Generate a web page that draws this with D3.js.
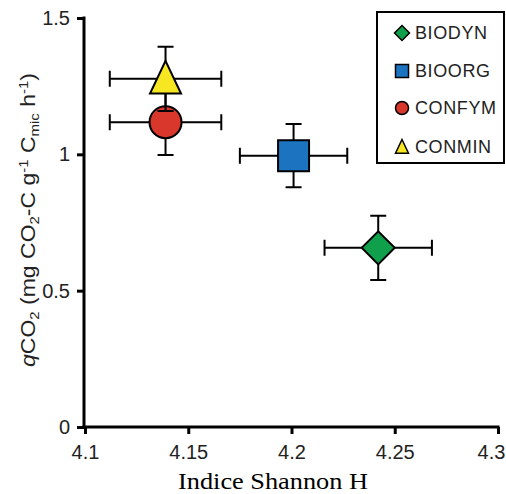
<!DOCTYPE html>
<html>
<head>
<meta charset="utf-8">
<script src="https://cdn.jsdelivr.net/npm/d3@7"></script>
<style>
  body { margin: 0; background: #fff; }
  svg { display: block; }
  .axis text { font-family: "Liberation Sans", Arial, sans-serif; font-size: 20px; fill: #222; }
</style>
</head>
<body>
<div id="chart"></div>
<script>
// data
const treatments = ['BIODYN', 'BIOORG', 'CONFYM', 'CONMIN'];
const shannon    = [4.242, 4.201, 4.139, 4.139];
const shannonErr = [0.026, 0.026, 0.027, 0.027];
const qco2       = [0.657, 0.995, 1.118, 1.277];
const qco2Err    = [0.118, 0.116, 0.120, 0.118];
const xTicks = [4.1, 4.15, 4.2, 4.25, 4.3];
const yTicks = [0, 0.5, 1, 1.5];

const colors = {BIODYN: '#10a04c', BIOORG: '#1c74c0', CONFYM: '#d9372c', CONMIN: '#f6e722'};
const width = 506, height = 494;

const svg = d3.select('#chart').append('svg')
  .attr('width', width)
  .attr('height', height);

const x = d3.scaleLinear().domain([4.1, 4.3]).range([85, 498]);
const y = d3.scaleLinear().domain([0, 1.5]).range([427, 18]);

// custom triangle (a bit taller than equilateral)
const tallTriangle = {
  draw(ctx, size) {
    const w = Math.sqrt(size), h = w * 1.05;
    ctx.moveTo(0, -h * 0.55);
    ctx.lineTo(w / 2, h * 0.45);
    ctx.lineTo(-w / 2, h * 0.45);
    ctx.closePath();
  }
};

function shape(name, s) {
  // s ~ marker width in px
  if (name === 'BIODYN') return {path: d3.symbol(d3.symbolSquare, (s / Math.SQRT2) ** 2)(), rot: 45};
  if (name === 'BIOORG') return {path: d3.symbol(d3.symbolSquare, s * s)(), rot: 0};
  if (name === 'CONFYM') return {path: d3.symbol(d3.symbolCircle, Math.PI * (s / 2) ** 2)(), rot: 0};
  return {path: d3.symbol(tallTriangle, s * s)(), rot: 0};
}

// axes
const xAxis = d3.axisBottom(x).tickValues(xTicks).tickSize(7).tickSizeOuter(0).tickPadding(11)
  .tickFormat(d => String(d));
const yAxis = d3.axisLeft(y).tickValues(yTicks).tickSize(7).tickSizeOuter(0).tickPadding(7)
  .tickFormat(d => String(d));

const gx = svg.append('g').attr('class', 'axis').attr('transform', 'translate(0,427)').call(xAxis);
const gy = svg.append('g').attr('class', 'axis').attr('transform', 'translate(84,0)').call(yAxis);
[gx, gy].forEach(g => {
  g.select('.domain').attr('stroke', '#000').attr('stroke-width', 3);
  g.selectAll('.tick line').attr('stroke', '#000').attr('stroke-width', 3);
});
gx.select('.domain').attr('d', 'M82.5,0H499.5');
gy.select('.domain').attr('d', 'M0,16.5V428.5');
// last label sits against the right edge
gx.selectAll('.tick text').filter(d => d === 4.3).attr('dx', -7);

// axis titles
svg.append('text')
  .attr('x', 273).attr('y', 489)
  .attr('text-anchor', 'middle')
  .attr('font-family', '"Liberation Serif", "Times New Roman", serif')
  .attr('font-size', 23)
  .attr('textLength', 190).attr('lengthAdjust', 'spacingAndGlyphs')
  .text('Indice Shannon H');

const yl = svg.append('text')
  .attr('transform', 'translate(35,220) rotate(-90)')
  .attr('text-anchor', 'middle')
  .attr('font-family', '"Liberation Sans", Arial, sans-serif')
  .attr('font-size', 20)
  .attr('textLength', 294).attr('lengthAdjust', 'spacingAndGlyphs')
  .attr('fill', '#222');
yl.append('tspan').attr('font-style', 'italic').text('q');
yl.append('tspan').text('CO');
yl.append('tspan').attr('font-size', 13).attr('dy', 4).text('2');
yl.append('tspan').attr('dy', -4).text(' (mg CO');
yl.append('tspan').attr('font-size', 13).attr('dy', 4).text('2');
yl.append('tspan').attr('dy', -4).text('-C g');
yl.append('tspan').attr('font-size', 13).attr('dy', -7).text('-1');
yl.append('tspan').attr('dy', 7).text(' C');
yl.append('tspan').attr('font-size', 13).attr('dy', 4).text('mic');
yl.append('tspan').attr('dy', -4).text(' h');
yl.append('tspan').attr('font-size', 13).attr('dy', -7).text('-1');
yl.append('tspan').attr('dy', 7).text(')');

// points with error bars
const data = treatments.map((t, i) => ({t, x: shannon[i], xe: shannonErr[i], y: qco2[i], ye: qco2Err[i]}));
const cap = 8;
const pts = svg.append('g').selectAll('g').data(data).enter().append('g');
pts.each(function(d) {
  const g = d3.select(this);
  const cx = x(d.x), cy = y(d.y);
  const x0 = x(d.x - d.xe), x1 = x(d.x + d.xe);
  const y0 = y(d.y - d.ye), y1 = y(d.y + d.ye);
  const p = d3.path();
  p.moveTo(x0, cy); p.lineTo(x1, cy);
  p.moveTo(x0, cy - cap); p.lineTo(x0, cy + cap);
  p.moveTo(x1, cy - cap); p.lineTo(x1, cy + cap);
  p.moveTo(cx, y0); p.lineTo(cx, y1);
  p.moveTo(cx - cap, y0); p.lineTo(cx + cap, y0);
  p.moveTo(cx - cap, y1); p.lineTo(cx + cap, y1);
  g.append('path').attr('d', p.toString()).attr('stroke', '#000').attr('stroke-width', 2).attr('fill', 'none');
  const sh = shape(d.t, d.t === 'BIODYN' ? 33 : d.t === 'CONMIN' ? 31 : d.t === 'BIOORG' ? 31 : 32);
  g.append('path')
    .attr('d', sh.path)
    .attr('transform', `translate(${cx},${cy}) rotate(${sh.rot})`)
    .attr('fill', colors[d.t])
    .attr('stroke', '#000')
    .attr('stroke-width', 2);
});

// legend
const lg = svg.append('g');
lg.append('rect').attr('x', 377).attr('y', 12).attr('width', 127).attr('height', 151)
  .attr('fill', '#fff').attr('stroke', '#000').attr('stroke-width', 2);
const legY = [33, 71, 108, 147];
treatments.forEach((t, i) => {
  const sh = shape(t, t === 'BIODYN' ? 15 : 13);
  lg.append('path')
    .attr('d', sh.path)
    .attr('transform', `translate(402,${legY[i]}) rotate(${sh.rot})`)
    .attr('fill', colors[t]).attr('stroke', '#000').attr('stroke-width', 1.5);
  lg.append('text')
    .attr('x', 415).attr('y', legY[i]).attr('dy', '0.36em')
    .attr('font-family', '"Liberation Sans", Arial, sans-serif')
    .attr('font-size', 18)
    .attr('letter-spacing', 0.6)
    .attr('fill', '#222')
    .text(t);
});
</script>
</body>
</html>
